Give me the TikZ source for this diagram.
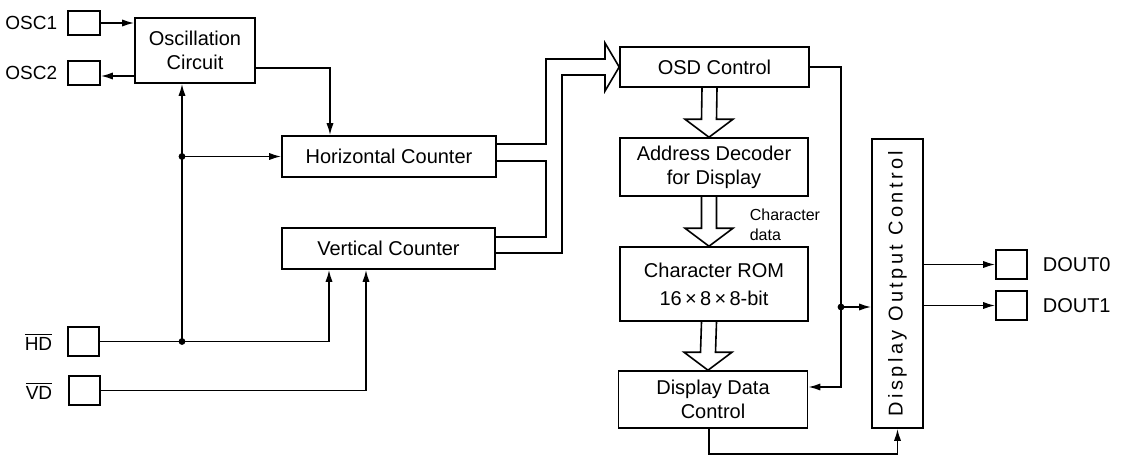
\documentclass[tikz,border=0pt]{standalone}
\usepackage{fontspec}
\setmainfont{Liberation Sans}
\usetikzlibrary{arrows.meta,calc}
\newcommand\fatarr[2]{\draw[line join=miter] ($(#1)+(-7.5,0)$) -- ($(#2)+(-7.5,-18)$) -- ($(#2)+(-24,-18)$) -- (#2) -- ($(#2)+(24,-18)$) -- ($(#2)+(7.5,-18)$) -- ($(#1)+(7.5,0)$);}
\begin{document}
\begin{tikzpicture}[x=0.5pt,y=-0.5pt,
  line width=0.8pt,
  box/.style={draw,line width=0.8pt,inner sep=0pt,align=center,font=\fontsize{10}{12}\selectfont},
  pinbox/.style={draw,line width=0.8pt,inner sep=0pt,minimum width=15.5pt,minimum height=14.5pt},
  arr/.style={-{Latex[length=6pt,width=3.6pt]}},
  jdot/.style={circle,fill,inner sep=0pt,minimum size=3.4pt},
  lbl/.style={inner sep=0pt,font=\fontsize{9.5}{11}\selectfont}
]
\useasboundingbox (0,0) rectangle (1122,455);

% blocks
\node[box,minimum width=60pt,minimum height=32.5pt] (osc) at (195,50.5) {Oscillation\\Circuit};
\node[box,minimum width=107pt,minimum height=20.5pt] (hc) at (389,156.5) {Horizontal Counter};
\node[box,minimum width=106.5pt,minimum height=20.5pt] (vc) at (388.5,248.5) {Vertical Counter};
\node[box,minimum width=94.5pt,minimum height=20pt] (osd) at (714.5,67) {OSD Control};
\node[box,minimum width=94pt,minimum height=29pt] (addr) at (714,167) {Address Decoder\\for Display};
\node[box,minimum width=94pt,minimum height=37pt] (rom) at (714,284) {Character ROM\\[2pt]16\,×\,8\,×\,8-bit};
\node[box,minimum width=94.5pt,minimum height=28.5pt] (ddc) at (713,399.5) {Display Data\\Control};
\node[box,minimum width=25.5pt,minimum height=144.5pt] (doc) at (897.5,283.5) {};
\node[rotate=90,inner sep=0pt,font=\fontsize{10}{12}\selectfont\addfontfeature{LetterSpace=17}] (doct) at (doc.center) {Display Output Control};

% pins
\node[pinbox,minimum width=16pt,minimum height=12pt] (osc1) at (84,23) {};
\node[pinbox,minimum width=16pt,minimum height=12pt] (osc2) at (84,73) {};
\node[pinbox] (hd) at (83.5,341.5) {};
\node[pinbox] (vd) at (84.5,390.5) {};
\node[pinbox] (dout0) at (1011.5,264.5) {};
\node[pinbox] (dout1) at (1011.5,305.5) {};

% labels
\node[lbl,anchor=east] (osc1l) at (58,23) {OSC1};
\node[lbl,anchor=east] (osc2l) at (58,73) {OSC2};
\node[lbl,anchor=east] (hdl) at (53,342) {$\overline{\mbox{HD}}$};
\node[lbl,anchor=east] (vdl) at (53,391) {$\overline{\mbox{VD}}$};
\node[lbl,anchor=west,font=\fontsize{10}{12}\selectfont] (d0l) at (1042,265) {DOUT0};
\node[lbl,anchor=west,font=\fontsize{10}{12}\selectfont] (d1l) at (1042,306) {DOUT1};
\node[anchor=north west,align=left,inner sep=0pt,font=\fontsize{8}{10}\selectfont] (cd) at (749,208) {Character\\data};

% oscillator connections
\draw[arr] (osc1.east) -- (osc.west |- osc1.east);
\coordinate (c2) at (0,76);
\draw[arr] (osc.west |- c2) -- (osc2.east |- c2);
\coordinate (c1) at (330,68);
\draw[arr] (osc.east |- c1) -- (c1) -- (c1 |- hc.north);

% HD / VD
\coordinate (xj) at (182,0);
\coordinate (vx1) at (329,0);
\coordinate (vx2) at (366,0);
\draw[arr] (hd.east) -| (vx1 |- vc.south);
\draw[arr] (vd.east) -| (vx2 |- vc.south);
\draw[arr] (xj |- hd.east) -- (xj |- osc.south);
\draw[arr] (xj |- hc.west) -- (hc.west);
\node[jdot] (j1) at (xj |- hd.east) {};
\node[jdot] (j2) at (xj |- hc.west) {};

% bus to OSD control
\coordinate (bA) at (546,144);
\coordinate (bB) at (562,253);
\draw[line join=miter] (hc.east |- bA) -- (bA) -- (546,59) -- (605,59) -- (605,43) -- (osd.west) -- (605,91) -- (605,75) -- (562,75) -- (bB) -- (vc.east |- bB);
\coordinate (lA) at (546,161);
\coordinate (lB) at (546,237);
\draw (hc.east |- lA) -- (lA) -- (lB) -- (vc.east |- lB);

% fat arrows
\coordinate (f1a) at ([xshift=-2.5pt]osd.south);
\coordinate (f1b) at ([xshift=-2.5pt]addr.north);
\coordinate (f2a) at ([xshift=-2.5pt]addr.south);
\coordinate (f2b) at ([xshift=-2.5pt]rom.north);
\coordinate (f3a) at ([xshift=-2.5pt]rom.south);
\coordinate (f3b) at ([xshift=-2.5pt]ddc.north);
\fatarr{f1a}{f1b}
\fatarr{f2a}{f2b}
\fatarr{f3a}{f3b}

% right side
\coordinate (r387) at (841,387);
\coordinate (rj) at (841,307);
\draw[arr] (osd.east) -| (r387) -- (ddc.east |- r387);
\draw[arr] (rj) -- (doc.west |- rj);
\node[jdot] (j3) at (rj) {};
\draw[arr] ([xshift=-2pt]ddc.south) -- ++(0,25) -| (doc.south);

% outputs
\draw[arr] (doc.east |- dout0) -- (dout0.west);
\draw[arr] (doc.east |- dout1) -- (dout1.west);
\end{tikzpicture}
\end{document}
